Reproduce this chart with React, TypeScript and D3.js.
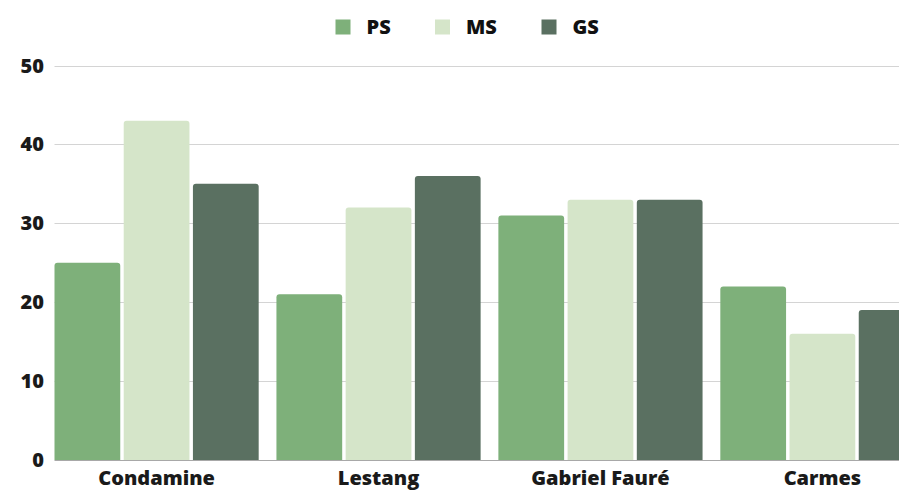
import React, { useEffect, useRef } from "react";
import * as d3 from "d3";

const schools = ["Condamine", "Lestang", "Gabriel Fauré", "Carmes"];
const levels = ["PS", "MS", "GS"];
const psValues = [25, 21, 31, 22];
const msValues = [43, 32, 33, 16];
const gsValues = [35, 36, 33, 19];
const yTicks = [0, 10, 20, 30, 40, 50];
const colors = ["#7eb07a", "#d5e5c9", "#5a7061"];

const W = 899;
const H = 491;
const FONT = "'Open Sans', 'DejaVu Sans', sans-serif";

// rounded top corners only
function topRounded(x: number, y: number, w: number, h: number, r: number) {
  r = Math.min(r, h, w / 2);
  return `M${x},${y + h}V${y + r}Q${x},${y} ${x + r},${y}H${x + w - r}Q${x + w},${y} ${x + w},${y + r}V${y + h}Z`;
}

function App() {
  const ref = useRef<SVGSVGElement>(null);

  useEffect(() => {
    document.body.style.margin = "0";
    const svg = d3.select(ref.current);
    svg.selectAll("*").remove();

    const series = [psValues, msValues, gsValues];
    const rows = schools.map((s, i) => ({
      name: s,
      values: series.map((v, j) => ({ level: levels[j], value: v[i], color: colors[j] })),
    }));

    const y = d3.scaleLinear().domain([0, 50]).range([460, 65.5]);
    const x0 = d3.scaleBand().domain(schools).range([54.5, 924.5]).paddingInner(0.08).paddingOuter(0);
    const x1 = d3.scaleBand().domain(levels).range([0, x0.bandwidth()]).paddingInner(0.05).paddingOuter(0);

    // gridlines
    svg.append("g")
      .selectAll("line")
      .data(yTicks)
      .join("line")
        .attr("x1", 54.5)
        .attr("x2", W)
        .attr("y1", d => Math.round(y(d)) + 0.5)
        .attr("y2", d => Math.round(y(d)) + 0.5)
        .attr("stroke", d => d === 0 ? "#a8a8a8" : "#d4d4d4")
        .attr("stroke-width", 1);

    // y labels
    svg.append("g")
      .selectAll("text")
      .data(yTicks)
      .join("text")
        .attr("x", 44)
        .attr("y", d => y(d))
        .attr("dy", "0.35em")
        .attr("text-anchor", "end")
        .attr("font-family", FONT)
        .attr("font-weight", 800)
        .attr("font-size", 20)
        .attr("fill", "#1a1a1a")
        .text(d => d);

    // bars
    const groups = svg.append("g")
      .selectAll("g")
      .data(rows)
      .join("g")
        .attr("transform", d => `translate(${x0(d.name)},0)`);

    groups.selectAll("path")
      .data(d => d.values)
      .join("path")
        .attr("d", d => topRounded(x1(d.level)!, y(d.value), x1.bandwidth(), y(0) - y(d.value), 3))
        .attr("fill", d => d.color);

    // category labels
    svg.append("g")
      .selectAll("text")
      .data(schools)
      .join("text")
        .attr("x", d => x0(d)! + x0.bandwidth() / 2)
        .attr("y", 485)
        .attr("text-anchor", "middle")
        .attr("font-family", FONT)
        .attr("font-weight", 800)
        .attr("font-size", 20)
        .attr("fill", "#1a1a1a")
        .text(d => d);

    // legend
    const legendX = [335.5, 435, 541.5];
    const legend = svg.append("g")
      .selectAll("g")
      .data(levels)
      .join("g")
        .attr("transform", (d, i) => `translate(${legendX[i]},0)`);
    legend.append("rect")
      .attr("x", 0)
      .attr("y", 19.5)
      .attr("width", 15)
      .attr("height", 15)
      .attr("fill", (d, i) => colors[i]);
    legend.append("text")
      .attr("x", 31)
      .attr("y", 27)
      .attr("dy", "0.35em")
      .attr("font-family", FONT)
      .attr("font-weight", 800)
      .attr("font-size", 20)
      .attr("fill", "#111")
      .text(d => d);
  }, []);

  return (
    <div>
      <svg ref={ref} width={W} height={H} style={{ display: "block", background: "white" }}></svg>
    </div>
  );
}

export default App;
